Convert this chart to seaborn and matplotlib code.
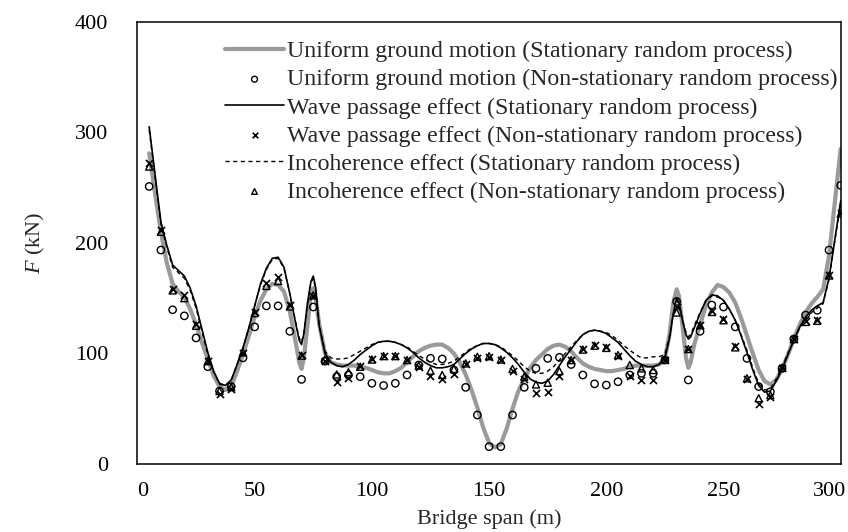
import matplotlib
matplotlib.use("Agg")
import matplotlib.pyplot as plt
import matplotlib.transforms as mtransforms
import seaborn as sns
import pandas as pd

# ---------------- data ----------------
curve_x = [5, 7.5, 10, 12.5, 15, 17.5, 20, 22.5, 25, 27.5, 30, 32.5, 35, 37.5, 40, 42.5,
           45, 47.5, 50, 52.5, 55, 57.5, 60, 62.5, 65, 67.5,
           69, 70, 71, 72.5, 74, 75, 76, 77.5,
           80, 82.5, 85, 87.5, 90, 92.5, 95, 97.5, 100, 102.5, 105, 107.5, 110, 112.5,
           115, 117.5, 120, 122.5, 125, 127.5, 130, 132.5, 135, 137.5, 140, 142.5, 145,
           147.5, 150, 152.5, 155, 157.5, 160, 162.5, 165, 167.5, 170, 172.5, 175, 177.5,
           180, 182.5, 185, 187.5, 190, 192.5, 195, 197.5, 200, 202.5, 205, 207.5, 210,
           212.5, 215, 217.5, 220, 222.5, 225,
           227, 228.5, 230, 231, 232.5, 234, 235, 236, 237.5,
           240, 242.5, 245, 247.5, 250, 252.5, 255, 257.5, 260, 262.5, 265, 267.5, 270,
           272.5, 275, 277.5, 280, 282.5, 285, 287.5, 290, 292.5, 295, 297.5, 300]

uniform_stat = [281, 245, 210, 182, 163, 156, 151, 140, 126, 110, 95, 80, 70, 67, 70, 84,
                99, 116, 133, 148, 158, 163, 162, 156, 138, 110,
                92, 86, 96, 125, 154, 159, 150, 127,
                100, 92, 90, 89, 89, 89, 88, 87, 85, 83, 82, 82, 84, 87,
                92, 97, 102, 105, 107, 108, 108, 105, 100, 92, 81, 67, 51,
                33, 19, 15, 18, 32, 50, 66, 77, 87, 94, 99, 104, 107,
                108, 106, 102, 96, 91, 88, 86, 85, 84, 84, 85, 86, 88,
                89, 89, 89, 89, 90, 95,
                118, 145, 158, 152, 125, 96, 87, 92, 108,
                126, 143, 155, 162, 160, 155, 146, 132, 116, 100, 85, 75, 72,
                76, 86, 99, 113, 126, 137, 145, 151, 158, 188, 237, 285]

wave_stat = [305, 262, 219, 198, 180, 175, 170, 159, 143, 122, 101, 84, 73, 71, 76, 90,
             105, 123, 143, 163, 177, 186, 187, 178, 154, 127,
             112, 108, 118, 145, 165, 170, 160, 125,
             100, 92, 89, 88, 90, 94, 99, 103, 107, 110, 111, 111, 110, 108,
             105, 101, 96, 92, 89, 87, 87, 88, 90, 95, 100, 104, 107,
             109, 109, 108, 105, 101, 96, 90, 83, 77, 74, 73, 75, 81,
             89, 97, 104, 111, 117, 120, 121, 120, 118, 114, 110, 104, 98,
             93, 90, 88, 88, 90, 96,
             114, 135, 150, 146, 130, 117, 113, 115, 123,
             136, 148, 153, 152, 148, 140, 130, 116, 101, 85, 71, 65, 66,
             75, 86, 99, 112, 124, 133, 139, 143, 146, 168, 203, 238]

incoh_stat = [302, 260, 217, 196, 178, 173, 168, 157, 141, 120, 99, 83, 72, 71, 76, 90,
              105, 123, 143, 162, 176, 185, 186, 177, 154, 128,
              114, 110, 119, 145, 164, 168, 158, 126,
              102, 96, 95, 95, 96, 99, 102, 105, 108, 110, 111, 111, 110, 108,
              106, 102, 98, 95, 92, 90, 90, 91, 93, 97, 101, 105, 107,
              109, 109, 108, 106, 102, 98, 93, 88, 84, 82, 82, 84, 88,
              94, 100, 106, 112, 117, 120, 121, 120, 119, 116, 112, 107, 103,
              99, 96, 96, 97, 97, 99,
              116, 135, 148, 145, 130, 119, 115, 117, 125,
              137, 148, 152, 151, 148, 140, 130, 117, 103, 87, 73, 67, 68,
              77, 88, 100, 112, 123, 131, 137, 141, 145, 167, 202, 236]

marker_x = list(range(5, 305, 5))

uniform_nonstat = [251, 193.5, 139.5, 134, 114, 88, 66, 70, 96, 124, 143, 143, 120, 76.5,
                   142, 93, 79, 80.5, 79, 73, 71, 73, 80.5, 89.5, 95.6, 95, 85, 69.3,
                   44.3, 15.7, 15.7, 44.3, 69.3, 86.5, 95.5, 96.5, 90, 80.5, 72.5, 71.4,
                   74.4, 80.5, 82, 82, 94, 147, 76, 120, 143.8, 142, 124, 95.5, 70, 65.4,
                   86.5, 113, 134.7, 139, 193.5, 252]

wave_nonstat = [272, 211.5, 158.5, 152.5, 126.5, 93.5, 63, 67.5, 100, 137.5, 164, 169.5,
                143.8, 98.5, 151.5, 93, 74.5, 77.5, 89, 95, 98, 98, 94.5, 88, 80, 76.5,
                81, 90, 96.2, 97, 94.5, 84.2, 76.5, 64, 65.5, 80, 94, 104, 107.8, 106,
                97.3, 80, 76, 76, 94.5, 142, 104, 126, 138.5, 130.7, 106.4, 76.8, 54.7,
                60.8, 86.7, 113, 129, 130, 171, 227]

incoh_nonstat = [269, 210, 157, 150, 125, 93, 66, 69.5, 101, 136.5, 161, 165.5, 142.5, 98,
                 152.5, 94.5, 81, 83, 88, 94.5, 97.6, 97.6, 94, 89, 84.4, 80.5, 86, 91,
                 97, 97.5, 94.5, 86, 79, 72, 73.5, 84, 94, 103.5, 107, 105, 98.5, 89.5,
                 86.5, 85, 94.5, 137, 104, 125.5, 137.5, 130, 105.5, 77.5, 59.5, 62.3,
                 87, 113, 128.5, 129.5, 170.5, 226.5]

labels = ["Uniform ground motion (Stationary random process)",
          "Uniform ground motion (Non-stationary random process)",
          "Wave passage effect (Stationary random process)",
          "Wave passage effect (Non-stationary random process)",
          "Incoherence effect (Stationary random process)",
          "Incoherence effect (Non-stationary random process)"]

x_ticks = [0, 50, 100, 150, 200, 250, 300]
y_ticks = [0, 100, 200, 300, 400]

# ---------------- style ----------------
sns.set_style("white")
plt.rcParams["font.family"] = ["Liberation Serif", "DejaVu Serif"]
plt.rcParams["mathtext.fontset"] = "custom"
plt.rcParams["mathtext.it"] = "Liberation Serif:italic"
plt.rcParams["mathtext.rm"] = "Liberation Serif"

fig = plt.figure(figsize=(8.48, 5.32), dpi=100)
ax = fig.add_axes([0.1621, 0.1278, 0.8293, 0.8314])

curves = pd.DataFrame({"x": curve_x, "u": uniform_stat, "w": wave_stat, "i": incoh_stat})
marks = pd.DataFrame({"x": marker_x, "u": uniform_nonstat, "w": wave_nonstat, "i": incoh_nonstat})

gray = "#9a9a9a"
sns.lineplot(data=curves, x="x", y="u", ax=ax, color=gray, lw=3.0, sort=False,
             estimator=None, label=labels[0], zorder=2)
sns.lineplot(data=curves, x="x", y="w", ax=ax, color="black", lw=1.2, sort=False,
             estimator=None, label=labels[2], zorder=3)
sns.lineplot(data=curves, x="x", y="i", ax=ax, color="black", lw=1.0, sort=False,
             estimator=None, label=labels[4], zorder=3, linestyle=(0, (3, 2.5)))
sns.scatterplot(data=marks, x="x", y="u", ax=ax, marker="o", s=28, facecolors="none",
                edgecolor="black", linewidth=1.0, label=labels[1], zorder=4)
sns.scatterplot(data=marks, x="x", y="w", ax=ax, marker="x", s=26, color="black",
                linewidth=1.2, label=labels[3], zorder=4)
sns.scatterplot(data=marks, x="x", y="i", ax=ax, marker="^", s=26, facecolors="none",
                edgecolor="black", linewidth=1.0, label=labels[5], zorder=4)

ax.set_xlim(0, 300)
ax.set_ylim(0, 400)
ax.set_xticks(x_ticks)
ax.set_yticks(y_ticks)
ax.tick_params(direction="in", length=4, width=1.0, labelsize=16, colors="black")
ax.tick_params(axis="x", pad=13)
ax.tick_params(axis="y", pad=21)
for s in ax.spines.values():
    s.set_color("black")
    s.set_linewidth(1.1)

# nudge first / last x tick labels as in the reference
xlabs = ax.get_xticklabels()
xlabs[0].set_transform(xlabs[0].get_transform() +
                       mtransforms.ScaledTranslation(5 / 100, 0, fig.dpi_scale_trans))
xlabs[-1].set_horizontalalignment("right")
xlabs[-1].set_transform(xlabs[-1].get_transform() +
                        mtransforms.ScaledTranslation(5 / 100, 0, fig.dpi_scale_trans))

ax.set_xlabel("Bridge span (m)", fontsize=16, labelpad=6)
ax.set_ylabel(r"$F$ (kN)", fontsize=16, labelpad=20)

h, l = ax.get_legend_handles_labels()
hd = dict(zip(l, h))
leg = ax.legend([hd[t] for t in labels], labels, loc="upper left",
                bbox_to_anchor=(0.124, 0.957), frameon=False, fontsize=17.2,
                handlelength=2.5, handletextpad=0.1, labelspacing=0.265,
                borderpad=0, borderaxespad=0, markerscale=0.8)

fig.savefig("out.png", dpi=100)
